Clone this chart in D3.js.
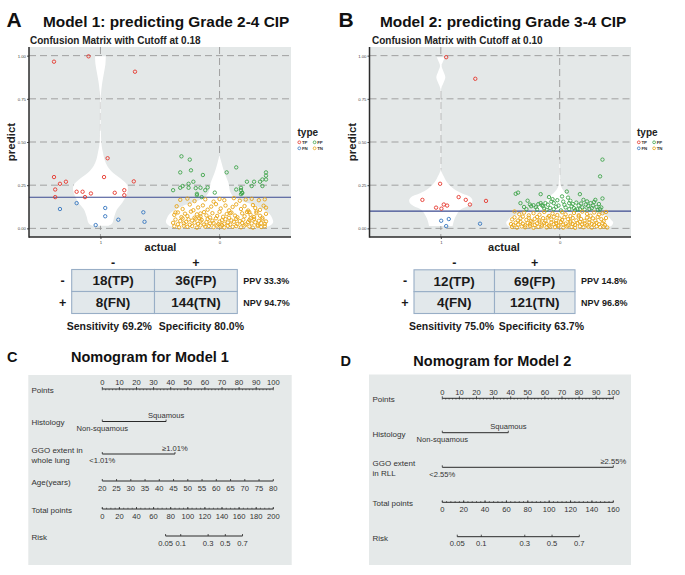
<!DOCTYPE html>
<html><head><meta charset="utf-8">
<script src="https://cdn.jsdelivr.net/npm/d3@7"></script>
<style>
body{margin:0;background:#fff;}
svg{display:block;}
</style></head><body>
<svg id="chart" width="685" height="575"></svg>
<script>
// ================= DATA =================
const categories = ["1", "0"];               // actual
const yTicks = [0, 0.25, 0.5, 0.75, 1];
const yTickLabels = ["0.00", "0.25", "0.50", "0.75", "1.00"];
const typeLabels = ["TP", "FP", "FN", "TN"];
const cutoffA = 0.18, cutoffB = 0.10;

// points: [jitter offset in category units, predicted probability]
const tpA = [[-0.39,0.965],[-0.10,0.996],[0.29,0.907],[-0.39,0.297],[-0.38,0.225],[-0.34,0.258],[-0.29,0.270],[-0.38,0.181],[-0.20,0.212],[-0.15,0.212],[-0.13,0.181],[-0.08,0.202],[0.03,0.297],[0.06,0.406],[0.12,0.206],[0.20,0.221],[0.20,0.192],[0.28,0.272]];
const fnA = [[-0.34,0.112],[-0.20,0.146],[-0.04,0.019],[0.04,0.118],[0.04,0.070],[0.15,0.050],[0.36,0.093],[0.37,0.038]];
const fpA = [[-0.32,0.417],[-0.25,0.398],[-0.33,0.324],[-0.24,0.336],[0.06,0.324],[0.14,0.353],[-0.14,0.309],[0.39,0.324],[-0.39,0.221],[-0.33,0.235],[-0.31,0.245],[-0.26,0.258],[-0.26,0.235],[-0.22,0.270],[-0.20,0.233],[-0.16,0.235],[-0.12,0.221],[-0.10,0.237],[-0.19,0.200],[-0.19,0.192],[-0.15,0.181],[-0.04,0.207],[0.14,0.225],[0.18,0.235],[0.18,0.221],[0.19,0.204],[0.23,0.270],[0.29,0.270],[0.27,0.245],[0.34,0.270],[0.36,0.283],[0.39,0.283],[0.39,0.305],[0.36,0.245],[0.18,0.198],[0.19,0.207]];
const tnA = [
 [-0.33,0.165],[-0.27,0.172],[-0.21,0.158],[-0.12,0.168],[-0.05,0.155],[0.00,0.170],[0.04,0.163],[0.12,0.175],[0.17,0.160],[0.22,0.167],[0.27,0.171],[0.33,0.163],[0.38,0.168],[-0.37,0.092],[0.09,0.088],[0.25,0.094],[-0.16,0.086],[0.31,0.098],
 [-0.36,0.128],[-0.31,0.112],[-0.25,0.138],[-0.22,0.105],[-0.18,0.121],[-0.14,0.133],[-0.10,0.108],[-0.07,0.126],[-0.03,0.140],[0.01,0.115],[0.05,0.132],[0.08,0.104],[0.11,0.124],[0.14,0.139],[0.18,0.112],[0.21,0.129],[0.24,0.103],[0.28,0.135],[0.30,0.118],[0.34,0.107],[0.37,0.131],[0.39,0.120],
 [-0.38,0.078],[-0.35,0.092],[-0.32,0.065],[-0.29,0.085],[-0.27,0.071],[-0.24,0.097],[-0.21,0.062],[-0.19,0.081],[-0.16,0.069],[-0.13,0.094],[-0.11,0.075],[-0.08,0.063],[-0.06,0.088],[-0.02,0.072],[0.00,0.096],[0.03,0.067],[0.06,0.083],[0.08,0.061],[0.10,0.091],[0.13,0.074],[0.15,0.064],[0.19,0.087],[0.21,0.070],[0.23,0.095],[0.26,0.079],[0.29,0.066],[0.31,0.089],[0.34,0.073],[0.36,0.061],[0.39,0.084],
 [-0.39,0.032],[-0.37,0.051],[-0.35,0.024],[-0.33,0.043],[-0.31,0.057],[-0.30,0.029],[-0.28,0.038],[-0.26,0.052],[-0.25,0.021],[-0.23,0.045],[-0.21,0.033],[-0.20,0.056],[-0.18,0.026],[-0.16,0.041],[-0.15,0.049],[-0.13,0.022],[-0.11,0.036],[-0.10,0.054],[-0.08,0.028],[-0.06,0.044],[-0.05,0.031],[-0.03,0.058],[-0.01,0.024],[0.00,0.039],[0.02,0.047],[0.04,0.027],[0.05,0.053],[0.07,0.034],[0.09,0.022],[0.10,0.046],[0.12,0.038],[0.14,0.055],[0.15,0.025],[0.17,0.042],[0.19,0.031],[0.20,0.050],[0.22,0.023],[0.24,0.037],[0.25,0.048],[0.27,0.029],[0.29,0.055],[0.30,0.035],[0.32,0.021],[0.33,0.044],[0.35,0.030],[0.36,0.052],[0.38,0.026],[0.39,0.040],[0.26,0.058],[-0.17,0.059],
 [-0.38,0.012],[-0.34,0.006],[-0.30,0.015],[-0.27,0.009],[-0.23,0.013],[-0.19,0.004],[-0.16,0.017],[-0.12,0.010],[-0.09,0.014],[-0.05,0.007],[-0.02,0.016],[0.01,0.011],[0.04,0.005],[0.07,0.015],[0.11,0.009],[0.14,0.013],[0.18,0.006],[0.21,0.016],[0.25,0.011],[0.28,0.004],[0.32,0.014],[0.35,0.008],[0.38,0.012],[0.02,0.019]];

const tpB = [[0.045,0.991],[0.29,0.866],[-0.155,0.165],[-0.006,0.258],[-0.04,0.120],[0.005,0.114],[0.025,0.138],[0.053,0.132],[0.15,0.181],[0.21,0.165],[0.245,0.138],[0.38,0.159]];
const fnB = [[0.003,0.044],[0.067,0.054],[0.045,0.013],[0.33,0.027]];
const fpB = [[0.36,0.398],[0.34,0.301],[0.36,0.173],[0.34,0.111],[-0.37,0.200],[-0.35,0.207],[-0.16,0.198],[-0.33,0.146],[-0.25,0.138],[-0.22,0.134],[-0.18,0.140],[-0.16,0.146],[-0.15,0.134],[-0.12,0.146],[-0.09,0.181],[-0.07,0.155],[-0.06,0.169],[-0.05,0.146],[-0.28,0.111],[-0.11,0.107],[-0.05,0.111],[0.03,0.155],[0.04,0.136],[0.06,0.213],[0.08,0.111],[0.08,0.146],[0.14,0.149],[0.17,0.198],[0.17,0.111],[0.20,0.165],[0.19,0.122],[0.24,0.130],[0.26,0.146],[0.29,0.153],[0.30,0.165],[0.27,0.117],[0.15,0.111],[0.12,0.117],[-0.24,0.128],[-0.20,0.122],[-0.14,0.128],[-0.10,0.137],[-0.08,0.118],[-0.03,0.125],[-0.01,0.132],[0.01,0.104],[0.05,0.121],[0.07,0.178],[0.10,0.128],[0.11,0.141],[0.13,0.105],[0.16,0.133],[0.18,0.144],[0.21,0.109],[0.22,0.138],[0.23,0.156],[0.25,0.112],[0.28,0.132],[0.31,0.124],[0.32,0.107],[0.33,0.141],[-0.30,0.124],[-0.27,0.160],[-0.19,0.110],[-0.13,0.115],[-0.02,0.163],[0.02,0.185],[0.09,0.160],[0.35,0.121]];
const tnB = [
 [-0.38,0.098],[-0.34,0.082],[-0.30,0.091],[-0.26,0.075],[-0.22,0.088],[-0.17,0.079],[-0.13,0.095],[-0.09,0.072],[-0.06,0.086],[-0.02,0.077],[0.02,0.093],[0.05,0.081],[0.09,0.071],[0.12,0.089],[0.16,0.076],[0.19,0.097],[0.23,0.084],[0.26,0.073],[0.29,0.092],[0.33,0.080],[0.36,0.087],[0.39,0.095],
 [-0.40,0.052],[-0.38,0.064],[-0.35,0.045],[-0.33,0.058],[-0.31,0.068],[-0.28,0.049],[-0.26,0.061],[-0.24,0.042],[-0.21,0.055],[-0.19,0.066],[-0.17,0.047],[-0.14,0.059],[-0.12,0.043],[-0.10,0.063],[-0.07,0.051],[-0.05,0.067],[-0.03,0.044],[0.00,0.057],[0.02,0.048],[0.04,0.065],[0.07,0.053],[0.09,0.041],[0.11,0.060],[0.14,0.046],[0.16,0.069],[0.18,0.054],[0.21,0.043],[0.23,0.062],[0.25,0.050],[0.28,0.058],[0.30,0.045],[0.32,0.066],[0.35,0.053],[0.37,0.041],[0.39,0.060],
 [-0.41,0.025],[-0.39,0.018],[-0.37,0.033],[-0.35,0.022],[-0.33,0.038],[-0.31,0.027],[-0.29,0.017],[-0.27,0.031],[-0.25,0.023],[-0.23,0.036],[-0.21,0.019],[-0.19,0.029],[-0.17,0.039],[-0.15,0.021],[-0.13,0.032],[-0.11,0.026],[-0.09,0.016],[-0.07,0.035],[-0.05,0.024],[-0.03,0.030],[-0.01,0.019],[0.01,0.037],[0.03,0.022],[0.05,0.028],[0.07,0.017],[0.09,0.034],[0.11,0.025],[0.13,0.020],[0.15,0.031],[0.17,0.038],[0.19,0.023],[0.21,0.029],[0.23,0.018],[0.25,0.035],[0.27,0.026],[0.29,0.021],[0.31,0.032],[0.33,0.024],[0.36,0.030],[0.38,0.019],
 [-0.40,0.008],[-0.36,0.004],[-0.32,0.011],[-0.29,0.006],[-0.25,0.013],[-0.22,0.003],[-0.18,0.009],[-0.15,0.012],[-0.11,0.005],[-0.08,0.010],[-0.04,0.007],[-0.01,0.013],[0.03,0.004],[0.06,0.011],[0.10,0.008],[0.13,0.003],[0.17,0.012],[0.20,0.006],[0.24,0.010],[0.27,0.004],[0.31,0.012],[0.34,0.007],[0.37,0.010],[0.40,0.005]];

// violin profiles: [predicted probability, relative density (1 = widest)]
const violinA1 = [[0.015,0.15],[0.03,0.22],[0.07,0.26],[0.11,0.31],[0.15,0.41],[0.19,0.48],[0.22,0.51],[0.25,0.50],[0.28,0.41],[0.32,0.24],[0.36,0.13],[0.40,0.074],[0.44,0.046],[0.48,0.022],[0.55,0.009],[0.65,0.006],[0.75,0.007],[0.79,0.013],[0.85,0.037],[0.90,0.065],[0.95,0.093],[0.996,0.10]];
const violinA0 = [[0.003,0.78],[0.015,0.94],[0.035,1.0],[0.06,0.98],[0.085,0.93],[0.11,0.81],[0.13,0.69],[0.15,0.50],[0.17,0.33],[0.19,0.24],[0.22,0.19],[0.26,0.17],[0.30,0.12],[0.34,0.074],[0.38,0.037],[0.417,0.007]];
const violinB1 = [[0.013,0.22],[0.04,0.24],[0.07,0.28],[0.107,0.36],[0.13,0.51],[0.147,0.58],[0.165,0.59],[0.184,0.54],[0.20,0.41],[0.22,0.28],[0.243,0.19],[0.27,0.11],[0.30,0.056],[0.33,0.013],[0.40,0.005],[0.60,0.004],[0.78,0.005],[0.81,0.008],[0.84,0.047],[0.875,0.084],[0.91,0.047],[0.94,0.015],[0.97,0.047],[0.991,0.075]];
const violinB0 = [[0.003,0.82],[0.015,0.97],[0.035,1.0],[0.05,0.96],[0.068,0.90],[0.085,0.75],[0.10,0.58],[0.12,0.41],[0.147,0.32],[0.165,0.24],[0.184,0.19],[0.21,0.094],[0.243,0.028],[0.27,0.015],[0.30,0.008],[0.398,0.005]];

// confusion matrices [[TP, FP], [FN, TN]]
const matrixA = [[18, 36], [8, 144]];
const matrixB = [[12, 69], [4, 121]];
const colHeaders = ["-", "+"];
const rowHeaders = ["-", "+"];

// nomogram data
const pointsTicks = [0,10,20,30,40,50,60,70,80,90,100];
const histLevels = ["Non-squamous", "Squamous"];
const histPtsA = [0, 37.3];
const histPtsB = [0, 38.6];
const ggoLevelsA = ["<1.01%", "\u22651.01%"];
const ggoPtsA = [0, 42.5];
const ggoLevelsB = ["<2.55%", "\u22652.55%"];
const ggoPtsB = [0, 100];
const ageTicks = [20,25,30,35,40,45,50,55,60,65,70,75,80];
const agePts = [0, 100];
const totalTicksA = [0,20,40,60,80,100,120,140,160,180,200];
const totalTicksB = [0,20,40,60,80,100,120,140,160];
const riskTicks = [0.05, 0.1, 0.3, 0.5, 0.7];
const riskTotalA = [74, 164];   // total points at risk 0.05 and 0.7
const riskTotalB = [14, 128.2];

// ================= DRAWING =================
const FONT = '"Liberation Sans", Arial, Helvetica, sans-serif';
const svg = d3.select("#chart").attr("font-family", FONT);
const colors = {TP: "#e5372c", FP: "#3ea44a", FN: "#3676c0", TN: "#e8a516"};

function txt(g, x, y, s, size, opts = {}) {
  return g.append("text").attr("x", x).attr("y", y).text(s)
    .attr("font-size", size)
    .attr("font-weight", opts.bold ? "bold" : "normal")
    .attr("text-anchor", opts.anchor || "start")
    .attr("fill", opts.fill || "#111");
}

function scatterPanel(o) {
  const g = svg.append("g");
  txt(g, o.letterX, 26.7, o.letter, 21, {bold: true});
  txt(g, o.titleX, 27.3, o.title, 15.4, {bold: true});
  txt(g, o.subX, 44, o.subtitle, 10, {bold: true, fill: "#222"});

  const x = d3.scaleLinear().domain([0.4, 2.6]).range([o.left, o.right]);
  const y = d3.scaleLinear().domain([-0.05, 1.05]).range([o.bottom, o.top]);
  const unit = x(1) - x(0);

  g.append("rect").attr("x", o.left).attr("y", o.top)
    .attr("width", o.right - o.left).attr("height", o.bottom - o.top).attr("fill", "#e4e8e8");

  g.selectAll("line.gh").data(yTicks).join("line").attr("class", "gh")
    .attr("x1", o.left).attr("x2", o.right).attr("y1", d => y(d)).attr("y2", d => y(d))
    .attr("stroke", "#999").attr("stroke-width", 0.9).attr("stroke-dasharray", "7,4");
  g.selectAll("line.gv").data(categories).join("line").attr("class", "gv")
    .attr("x1", (d, i) => x(i + 1)).attr("x2", (d, i) => x(i + 1)).attr("y1", o.top).attr("y2", o.bottom)
    .attr("stroke", "#999").attr("stroke-width", 0.9).attr("stroke-dasharray", "7,4");

  o.violins.forEach((prof, i) => {
    const cx = x(i + 1);
    const area = d3.area().curve(d3.curveCatmullRom)
      .y(d => y(d[0])).x0(d => cx - d[1] * 0.45 * unit).x1(d => cx + d[1] * 0.45 * unit);
    g.append("path").datum(prof).attr("d", area).attr("fill", "#fff");
  });

  g.append("line").attr("x1", o.left).attr("x2", o.right)
    .attr("y1", y(o.cutoff)).attr("y2", y(o.cutoff))
    .attr("stroke", "#3b4a90").attr("stroke-width", 1.2);

  o.series.forEach(s => {
    const ci = categories.indexOf(s.cat) + 1;
    g.append("g").selectAll("circle").data(s.data).join("circle")
      .attr("cx", d => x(ci + d[0])).attr("cy", d => y(d[1])).attr("r", 1.7)
      .attr("fill", "none").attr("stroke", colors[s.type]).attr("stroke-width", 0.9);
  });

  const ya = g.append("g").attr("transform", `translate(${o.left},0)`)
    .call(d3.axisLeft(y).tickValues(yTicks).tickFormat((d, i) => yTickLabels[i]).tickSize(2).tickPadding(1));
  ya.select(".domain").remove();
  ya.attr("font-family", FONT).attr("font-size", 4.3);
  ya.selectAll("text").attr("fill", "#444");
  ya.selectAll("line").attr("stroke", "#444");

  const xa = g.append("g").attr("transform", `translate(0,${o.bottom})`)
    .call(d3.axisBottom(x).tickValues([1, 2]).tickFormat((d, i) => categories[i]).tickSize(2).tickPadding(1.5));
  xa.select(".domain").remove();
  xa.attr("font-family", FONT).attr("font-size", 4.3);
  xa.selectAll("text").attr("fill", "#444");
  xa.selectAll("line").attr("stroke", "#444");

  g.append("line").attr("x1", o.left).attr("x2", o.left).attr("y1", o.top).attr("y2", o.bottom + 0.7)
    .attr("stroke", "#2b2b2b").attr("stroke-width", 1.5);
  g.append("line").attr("x1", o.left).attr("x2", o.right).attr("y1", o.bottom).attr("y2", o.bottom)
    .attr("stroke", "#2b2b2b").attr("stroke-width", 1.5);

  txt(g, o.actualX, 250.5, "actual", 11, {bold: true, anchor: "middle", fill: "#222"});
  g.append("text").attr("transform", `translate(${o.predictX},${(o.top + o.bottom) / 2}) rotate(-90)`)
    .attr("text-anchor", "middle").attr("font-size", 11.5).attr("font-weight", "bold")
    .attr("fill", "#222").text("predict");

  // legend
  txt(g, o.legX, 135.5, "type", 10, {bold: true, fill: "#222"});
  typeLabels.forEach((t, i) => {
    const cx = o.legX + 1.8 + (i % 2) * 15.3;
    const cy = 142.3 + Math.floor(i / 2) * 6;
    g.append("circle").attr("cx", cx).attr("cy", cy).attr("r", 1.4)
      .attr("fill", "none").attr("stroke", colors[t]).attr("stroke-width", 0.8);
    txt(g, cx + 2.6, cy + 1.6, t, 4.4, {bold: true, fill: "#333"});
  });
}

function confTable(o, m) {
  const g = svg.append("g");
  const [[tp, fp], [fn, tn]] = m;
  const cw = (o.x1 - o.x0) / 2, ch = (o.y1 - o.y0) / 2;
  const cells = [
    {r: 0, c: 0, t: `${tp}(TP)`}, {r: 0, c: 1, t: `${fp}(FP)`},
    {r: 1, c: 0, t: `${fn}(FN)`}, {r: 1, c: 1, t: `${tn}(TN)`}];
  g.selectAll("rect").data(cells).join("rect")
    .attr("x", d => o.x0 + d.c * cw).attr("y", d => o.y0 + d.r * ch)
    .attr("width", cw).attr("height", ch)
    .attr("fill", "#e2e8eb").attr("stroke", "#98aec6").attr("stroke-width", 1.1);
  cells.forEach(d => txt(g, o.x0 + (d.c + 0.5) * cw, o.y0 + (d.r + 0.5) * ch + 4.8, d.t, 13.5,
    {bold: true, anchor: "middle", fill: "#1a1a1a"}));
  colHeaders.forEach((h, i) => txt(g, o.x0 + (i + 0.5) * cw, 266.5, h, 12.5, {bold: true, anchor: "middle", fill: "#1a1a1a"}));
  rowHeaders.forEach((h, i) => txt(g, o.x0 - 9, o.y0 + (i + 0.5) * ch + 4.5, h, 12.5, {bold: true, anchor: "middle", fill: "#1a1a1a"}));
  const pct = v => (v * 100).toFixed(1) + "%";
  txt(g, o.x1 + 6, o.y0 + 0.5 * ch + 3.2, "PPV " + pct(tp / (tp + fp)), 9, {bold: true, fill: "#1a1a1a"});
  txt(g, o.x1 + 6, o.y0 + 1.5 * ch + 3.2, "NPV " + pct(tn / (tn + fn)), 9, {bold: true, fill: "#1a1a1a"});
  txt(g, o.x0 - 5, 330, "Sensitivity " + pct(tp / (tp + fn)), 10.5, {bold: true, fill: "#1a1a1a"});
  txt(g, o.x0 + cw + 4.3, 330, "Specificity " + pct(tn / (tn + fp)), 10.5, {bold: true, fill: "#1a1a1a"});
}

function nomogram(o) {
  const g = svg.append("g");
  const ink = "#2a2a2a", tc = "#333";
  g.append("rect").attr("x", o.bx0).attr("y", o.by0).attr("width", o.bx1 - o.bx0)
    .attr("height", o.by1 - o.by0).attr("fill", "#e5e9e9");
  txt(g, o.letterX, o.letterY, o.letter, 14.5, {bold: true});
  txt(g, o.titleX, o.titleY, o.title, 14.5, {bold: true});
  const pts = d3.scaleLinear().domain([0, 100]).range([o.ax0, o.ax1]);
  const LS = 8, TS = 7.6;
  const hline = (x1, x2, y) => g.append("line").attr("x1", x1).attr("x2", x2).attr("y1", y).attr("y2", y)
    .attr("stroke", ink).attr("stroke-width", 1);
  const vtick = (x, y, len, w = 0.8) => g.append("line").attr("x1", x).attr("x2", x).attr("y1", y).attr("y2", y + len)
    .attr("stroke", ink).attr("stroke-width", w);
  let totalScale = null;
  o.rows.forEach((row, i) => {
    const ly = o.lineY[i];
    row.label.forEach((s, k) => txt(g, o.labelX, ly + 1 + (k - (row.label.length - 1) / 2) * 9.5 + LS * 0.35, s, LS, {fill: tc}));
    if (row.kind === "points") {
      hline(pts(0), pts(100), ly);
      d3.range(0, 101, 2).forEach(v => vtick(pts(v), ly, 1.3, 0.6));
      row.ticks.forEach(v => { vtick(pts(v), ly, -2); txt(g, pts(v), ly - 3.8, v, TS, {anchor: "middle", fill: tc}); });
    } else if (row.kind === "factor") {
      const xs = row.pts.map(pts);
      hline(xs[0], xs[1], ly);
      xs.forEach(xx => vtick(xx, ly, -2));
      txt(g, xs[0], ly + 9.4, row.levels[0], TS, {anchor: "middle", fill: tc});
      txt(g, xs[1], ly - 3.4, row.levels[1], TS, {anchor: "middle", fill: tc});
    } else if (row.kind === "cont") {
      const s = d3.scaleLinear().domain([row.ticks[0], row.ticks[row.ticks.length - 1]])
        .range([pts(row.pts[0]), pts(row.pts[1])]);
      hline(s.range()[0], s.range()[1], ly);
      row.ticks.forEach(v => { vtick(s(v), ly, -2); txt(g, s(v), ly + 9.7, v, TS, {anchor: "middle", fill: tc}); });
    } else if (row.kind === "total") {
      totalScale = d3.scaleLinear().domain([0, row.ticks[row.ticks.length - 1]]).range([o.ax0, o.ax1]);
      hline(o.ax0, o.ax1, ly);
      d3.range(0, row.ticks[row.ticks.length - 1] + 0.01, row.minor).forEach(v => vtick(totalScale(v), ly, -1.3, 0.6));
      row.ticks.forEach(v => { vtick(totalScale(v), ly, -2); txt(g, totalScale(v), ly + 9.7, v, TS, {anchor: "middle", fill: tc}); });
    } else if (row.kind === "risk") {
      const logit = p => Math.log(p / (1 - p));
      const r0 = row.ticks[0], r1 = row.ticks[row.ticks.length - 1];
      const lt = d3.scaleLinear().domain([logit(r0), logit(r1)]).range(row.totalAt);
      const xr = p => totalScale(lt(logit(p)));
      hline(xr(r0), xr(r1), ly);
      row.ticks.forEach(v => { vtick(xr(v), ly, -2); txt(g, xr(v), ly + 9.7, v, TS, {anchor: "middle", fill: tc}); });
    }
  });
}

// ---------- Panel A & B ----------
scatterPanel({
  letter: "A", letterX: 6.5, title: "Model 1: predicting Grade 2-4 CIP", titleX: 43,
  subtitle: "Confusion Matrix with Cutoff at 0.18", subX: 30,
  left: 29, right: 291, top: 47, bottom: 237, cutoff: cutoffA,
  violins: [violinA1, violinA0],
  series: [{cat: "1", type: "TP", data: tpA}, {cat: "1", type: "FN", data: fnA},
           {cat: "0", type: "FP", data: fpA}, {cat: "0", type: "TN", data: tnA}],
  actualX: 160.5, predictX: 15, legX: 297.5
});
scatterPanel({
  letter: "B", letterX: 338.5, title: "Model 2: predicting Grade 3-4 CIP", titleX: 380,
  subtitle: "Confusion Matrix with Cutoff at 0.10", subX: 372,
  left: 369.5, right: 631, top: 47, bottom: 237, cutoff: cutoffB,
  violins: [violinB1, violinB0],
  series: [{cat: "1", type: "TP", data: tpB}, {cat: "1", type: "FN", data: fnB},
           {cat: "0", type: "FP", data: fpB}, {cat: "0", type: "TN", data: tnB}],
  actualX: 504, predictX: 356, legX: 637
});

confTable({x0: 71.7, x1: 237.3, y0: 269.5, y1: 313.5}, matrixA);
confTable({x0: 414, x1: 575, y0: 269.8, y1: 313.5}, matrixB);

// ---------- Panel C & D ----------
nomogram({
  letter: "C", letterX: 7, letterY: 362, title: "Nomogram for Model 1", titleX: 71, titleY: 362,
  bx0: 28.3, bx1: 291.7, by0: 375, by1: 565, ax0: 102.3, ax1: 273.3, labelX: 31.5,
  lineY: [389, 421.5, 454, 481, 509, 536],
  rows: [
    {label: ["Points"], kind: "points", ticks: pointsTicks},
    {label: ["Histology"], kind: "factor", levels: histLevels, pts: histPtsA},
    {label: ["GGO extent in", "whole lung"], kind: "factor", levels: ggoLevelsA, pts: ggoPtsA},
    {label: ["Age(years)"], kind: "cont", ticks: ageTicks, pts: agePts},
    {label: ["Total points"], kind: "total", ticks: totalTicksA, minor: 5},
    {label: ["Risk"], kind: "risk", ticks: riskTicks, totalAt: riskTotalA}
  ]
});
nomogram({
  letter: "D", letterX: 340.5, letterY: 365.5, title: "Nomogram for Model 2", titleX: 413.3, titleY: 366,
  bx0: 369, bx1: 631, by0: 374.5, by1: 565, ax0: 442.3, ax1: 613.3, labelX: 372.5,
  lineY: [398.3, 432.7, 467.3, 502.3, 536.7],
  rows: [
    {label: ["Points"], kind: "points", ticks: pointsTicks},
    {label: ["Histology"], kind: "factor", levels: histLevels, pts: histPtsB},
    {label: ["GGO extent", "in RLL"], kind: "factor", levels: ggoLevelsB, pts: ggoPtsB},
    {label: ["Total points"], kind: "total", ticks: totalTicksB, minor: 4},
    {label: ["Risk"], kind: "risk", ticks: riskTicks, totalAt: riskTotalB}
  ]
});
</script>
</body></html>
